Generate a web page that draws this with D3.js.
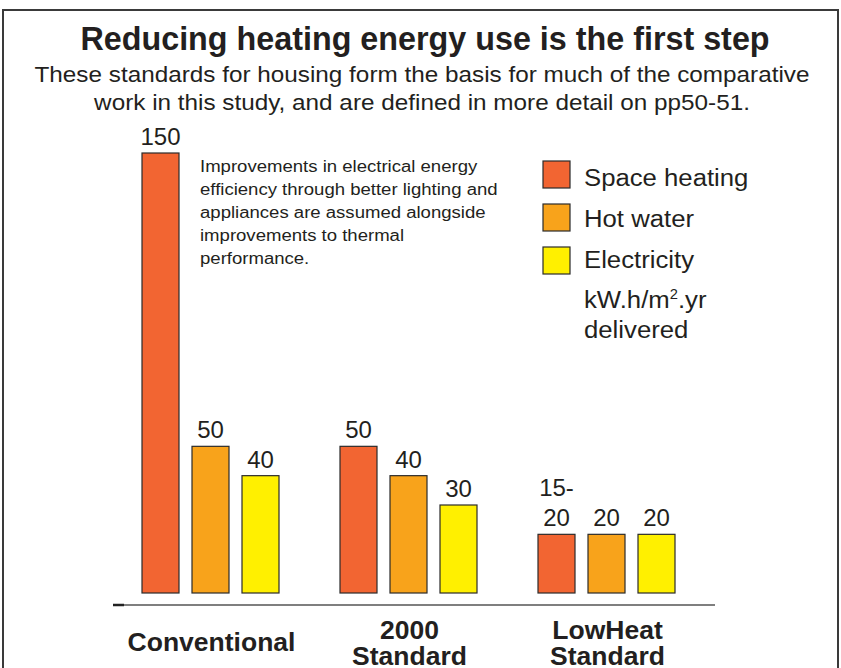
<!DOCTYPE html>
<html><head><meta charset="utf-8">
<script src="https://cdn.jsdelivr.net/npm/d3@7/dist/d3.min.js"></script>
<style>body{margin:0;background:#fff}svg{display:block}text{font-family:"Liberation Sans",Arial,Helvetica,sans-serif;fill:#231f20}</style>
</head><body><div id="chart"></div>
<script>
const categories = ["Conventional", "2000 Standard", "LowHeat Standard"];
const categoryLines = [["Conventional"], ["2000", "Standard"], ["LowHeat", "Standard"]];
const series = ["Space heating", "Hot water", "Electricity"];
const colors = ["#f26532", "#f8a31b", "#fff000"];
const spaceHeating = [150, 50, 20];
const hotWater = [50, 40, 20];
const electricity = [40, 30, 20];
const valueLabels = [["150", "50", "40"], ["50", "40", "30"], [["15-", "20"], "20", "20"]];
const title = "Reducing heating energy use is the first step";
const subtitle = ["These standards for housing form the basis for much of the comparative", "work in this study, and are defined in more detail on pp50-51."];
const note = ["Improvements in electrical energy", "efficiency through better lighting and", "appliances are assumed alongside", "improvements to thermal", "performance."];
const units = ["kW.h/m", "2", ".yr", "delivered"];

const W = 841, H = 668;
const svg = d3.select("#chart").append("svg").attr("width", W).attr("height", H);

function addText(parent, x, y, str, fs, sx, anchor, weight) {
  return parent.append("text")
    .attr("transform", `translate(${x},${y}) scale(${sx},1)`)
    .attr("text-anchor", anchor || "start")
    .style("font-size", fs + "px")
    .style("font-weight", weight || "normal")
    .text(str);
}

// frame
svg.append("rect").attr("x", 3).attr("y", 10).attr("width", 835).attr("height", 680)
  .attr("fill", "none").attr("stroke", "#3a3a3a").attr("stroke-width", 2);

addText(svg, 425, 50, title, 32.3, 1.0, "middle", "bold");
subtitle.forEach((s, i) => addText(svg, 422, 82 + i * 28, s, 21.5, 1.13, "middle"));

const values = [spaceHeating, hotWater, electricity];
const data = categories.map((c, ci) => ({cat: c, ci, vals: series.map((s, si) => ({s, si, v: values[si][ci]}))}));

const x0 = d3.scaleBand().domain(categories).range([111.5, 705.5]).padding(0);
const x1 = d3.scaleBand().domain(series).range([30.5, 167.5]).paddingInner(0.26).paddingOuter(0);
const y = d3.scaleLinear().domain([0, 150]).range([593, 153]);

const g = svg.append("g");
const groups = g.selectAll("g.cat").data(data).join("g").attr("class", "cat")
  .attr("transform", d => `translate(${x0(d.cat)},0)`);
groups.selectAll("rect").data(d => d.vals).join("rect")
  .attr("x", d => x1(d.s)).attr("width", x1.bandwidth())
  .attr("y", d => y(d.v)).attr("height", d => y(0) - y(d.v))
  .attr("fill", d => colors[d.si]).attr("stroke", "#2b2b2b").attr("stroke-width", 1.2);

groups.each(function(d) {
  const gg = d3.select(this);
  d.vals.forEach(v => {
    const lab = valueLabels[d.ci][v.si];
    const lines = Array.isArray(lab) ? lab : [lab];
    const cx = x1(v.s) + x1.bandwidth() / 2;
    lines.forEach((t, li) => {
      addText(gg, cx, y(v.v) - 8 - (lines.length - 1 - li) * 30, t, 24, 1.0, "middle");
    });
  });
});

// axis baseline
svg.append("line").attr("x1", 113).attr("x2", 715).attr("y1", 605).attr("y2", 605)
  .attr("stroke", "#555").attr("stroke-width", 1.5);
svg.append("line").attr("x1", 113).attr("x2", 124).attr("y1", 605).attr("y2", 605)
  .attr("stroke", "#222").attr("stroke-width", 2.5);

categories.forEach((c, i) => {
  const lines = categoryLines[i];
  const cx = x0(c) + x0.bandwidth() / 2 + 1;
  const startY = lines.length === 1 ? 651 : 639;
  lines.forEach((t, li) => addText(svg, cx, startY + li * 26, t, 26.5, 1.0, "middle", "bold"));
});

// note
note.forEach((t, i) => addText(svg, 200, 172 + i * 23, t, 16, 1.16));

// legend
const leg = svg.append("g");
series.forEach((s, i) => {
  const yy = 161 + i * 43;
  leg.append("rect").attr("x", 543).attr("y", yy).attr("width", 27).attr("height", 27)
    .attr("fill", colors[i]).attr("stroke", "#2b2b2b").attr("stroke-width", 1.2);
  addText(leg, 584, 186 + i * 41, s, 24.5, 1.05);
});
const ut = addText(leg, 584, 308, units[0], 24.5, 1.05);
ut.append("tspan").attr("dy", -9).style("font-size", "14px").text(units[1]);
ut.append("tspan").attr("dy", 9).text(units[2]);
addText(leg, 584, 338, units[3], 24.5, 1.05);
</script></body></html>
